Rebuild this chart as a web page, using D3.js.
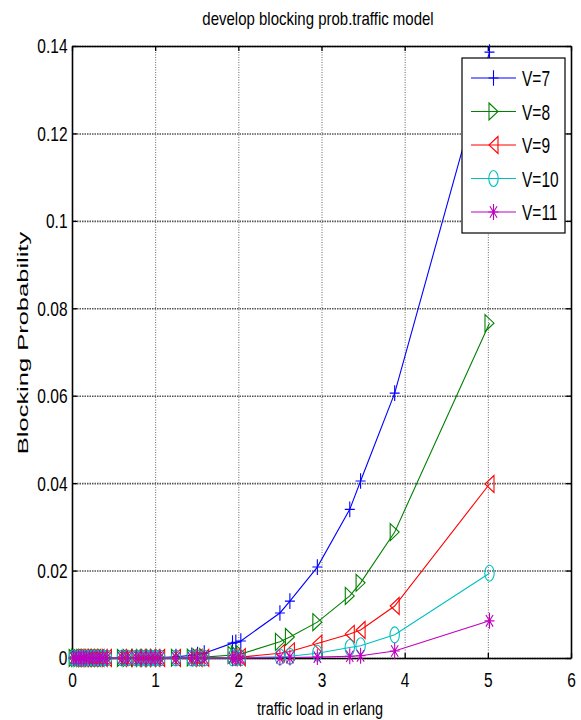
<!DOCTYPE html>
<html>
<head>
<meta charset="utf-8">
<script src="https://cdn.jsdelivr.net/npm/d3@7"></script>
<style>
  body { margin: 0; background: #fff; }
  svg { display: block; }
</style>
</head>
<body>
<script>
// traffic load (erlang) sampled for every curve
var loads = [0.02, 0.05, 0.08, 0.11, 0.14, 0.17, 0.21, 0.25, 0.29, 0.33, 0.37, 0.42,
  0.6, 0.67, 0.77, 0.83, 0.89, 0.95, 1.0, 1.06, 1.25, 1.44, 1.51, 1.59,
  1.93, 1.97, 2.03, 2.5, 2.62, 2.95, 3.34, 3.47, 3.88, 5.02]

var seriesNames = ['V=7', 'V=8', 'V=9', 'V=10', 'V=11']

var blockV7 = [0, 0, 0, 0, 0, 0, 0, 0, 0, 0, 0, 0,
  0, 0.00001, 0.00002, 0.00003, 0.00004, 0.00005, 0.00007, 0.0001, 0.0003, 0.0006, 0.0008, 0.0011,
  0.0034, 0.0036, 0.0039, 0.0103, 0.0130, 0.0208, 0.0340, 0.0405, 0.0606, 0.1386]
var blockV8 = [0, 0, 0, 0, 0, 0, 0, 0, 0, 0, 0, 0,
  0, 0, 0, 0, 0, 0, 0.00001, 0.00001, 0.00004, 0.0001, 0.00013, 0.0002,
  0.0007, 0.0008, 0.0009, 0.0037, 0.0048, 0.0082, 0.0142, 0.0172, 0.0288, 0.0766]
var blockV9 = [0, 0, 0, 0, 0, 0, 0, 0, 0, 0, 0, 0,
  0, 0, 0, 0, 0, 0, 0, 0, 0.00001, 0.00002, 0.00003, 0.00004,
  0.00015, 0.00018, 0.0002, 0.0011, 0.0015, 0.0033, 0.0055, 0.0064, 0.0119, 0.0398]
var blockV10 = [0, 0, 0, 0, 0, 0, 0, 0, 0, 0, 0, 0,
  0, 0, 0, 0, 0, 0, 0, 0, 0, 0, 0, 0.00001,
  0.00003, 0.00004, 0.00005, 0.0003, 0.0004, 0.0011, 0.0024, 0.0028, 0.0053, 0.0194]
var blockV11 = [0, 0, 0, 0, 0, 0, 0, 0, 0, 0, 0, 0,
  0, 0, 0, 0, 0, 0, 0, 0, 0, 0, 0, 0,
  0.00001, 0.00001, 0.00001, 0.00006, 0.0001, 0.0002, 0.0004, 0.0005, 0.0016, 0.0085]

var xTicks = [0, 1, 2, 3, 4, 5, 6]
var yTicks = [0, 0.02, 0.04, 0.06, 0.08, 0.1, 0.12, 0.14]
var yTickLabels = ['0', '0.02', '0.04', '0.06', '0.08', '0.1', '0.12', '0.14']

var width = 581
var height = 720
var plotLeft = 72
var plotRight = 571
var plotTop = 46
var plotBottom = 658
var markerStretch = 1.7 // picture is stretched vertically
var font = '"Liberation Sans", Arial, sans-serif'

var colors = ['#0000ff', '#008000', '#ff0000', '#00bfbf', '#bf00bf']
var markers = [
  'M-5,0H5M0,-4.6V4.6', // +
  'M-4.5,-5L4.5,0L-4.5,5Z', // >
  'M4.5,-5L-4.5,0L4.5,5Z', // <
  'M4.7,0A4.7,4.7 0 1,1 -4.7,0A4.7,4.7 0 1,1 4.7,0Z', // o
  'M-5,0H5M0,-4.7V4.7M-3.6,-3.4L3.6,3.4M-3.6,3.4L3.6,-3.4' // *
]

var svg = d3.select('body').append('svg')
  .attr('width', width)
  .attr('height', height)
  .style('background-color', '#fff')

var x = d3.scaleLinear().domain([0, 6]).range([plotLeft, plotRight])
var y = d3.scaleLinear().domain([0, 0.14]).range([plotBottom, plotTop])

var seriesData = [blockV7, blockV8, blockV9, blockV10, blockV11].map(function(vals, i) {
  return {
    name: seriesNames[i],
    color: colors[i],
    marker: markers[i],
    points: loads.map(function(l, j) { return { x: l, y: vals[j] } })
  }
})

// grid
var gridX = svg.append('g')
  .attr('transform', 'translate(0,' + plotBottom + ')')
  .call(d3.axisBottom(x).tickValues(xTicks).tickSize(-(plotBottom - plotTop)).tickFormat(''))
gridX.select('.domain').remove()
gridX.selectAll('line')
  .attr('stroke', '#666')
  .attr('stroke-width', 1)
  .attr('stroke-dasharray', '1,1.5')

var gridY = svg.append('g')
  .attr('transform', 'translate(' + plotLeft + ',0)')
  .call(d3.axisLeft(y).tickValues(yTicks).tickSize(-(plotRight - plotLeft)).tickFormat(''))
gridY.select('.domain').remove()
gridY.selectAll('line')
  .attr('stroke', '#555')
  .attr('stroke-width', 1.6)
  .attr('stroke-dasharray', '1.5,1')

// axes box with inward ticks
function styleAxis(g) {
  g.select('.domain').attr('stroke', '#000').attr('stroke-width', 1.6)
  g.selectAll('.tick line').attr('stroke', '#000').attr('stroke-width', 1.3)
  g.selectAll('.tick text')
    .attr('x', null).attr('y', null).attr('dy', null)
    .attr('fill', '#000')
    .style('font-family', font)
    .style('font-size', '15.5px')
}

var bottomAxis = svg.append('g')
  .attr('transform', 'translate(0,' + plotBottom + ')')
  .call(d3.axisBottom(x).tickValues(xTicks).tickSize(-5).tickSizeOuter(0).tickFormat(d3.format('d')))
  .call(styleAxis)
bottomAxis.selectAll('.tick text').attr('transform', 'translate(0,29) scale(1,1.25)')

var topAxis = svg.append('g')
  .attr('transform', 'translate(0,' + plotTop + ')')
  .call(d3.axisTop(x).tickValues(xTicks).tickSize(-5).tickSizeOuter(0).tickFormat(''))
  .call(styleAxis)

var leftAxis = svg.append('g')
  .attr('transform', 'translate(' + plotLeft + ',0)')
  .call(d3.axisLeft(y).tickValues(yTicks).tickSize(-5).tickSizeOuter(0)
    .tickFormat(function(d, i) { return yTickLabels[i] }))
  .call(styleAxis)
leftAxis.selectAll('.tick text').attr('transform', 'translate(-4.5,6.9) scale(1,1.25)')

var rightAxis = svg.append('g')
  .attr('transform', 'translate(' + plotRight + ',0)')
  .call(d3.axisRight(y).tickValues(yTicks).tickSize(-5).tickSizeOuter(0).tickFormat(''))
  .call(styleAxis)

// curves
var line = d3.line()
  .x(function(d) { return x(d.x) })
  .y(function(d) { return y(d.y) })

var series = svg.selectAll('.series')
  .data(seriesData)
  .enter()
  .append('g')
  .attr('class', 'series')

series.append('path')
  .attr('d', function(d) { return line(d.points) })
  .attr('fill', 'none')
  .attr('stroke', function(d) { return d.color })
  .attr('stroke-width', 1.1)

series.each(function(s) {
  d3.select(this).selectAll('.mark')
    .data(s.points)
    .enter()
    .append('path')
    .attr('class', 'mark')
    .attr('d', s.marker)
    .attr('transform', function(d) {
      return 'translate(' + x(d.x) + ',' + y(d.y) + ') scale(1,' + markerStretch + ')'
    })
    .attr('fill', 'none')
    .attr('stroke', s.color)
    .attr('stroke-width', 1.1)
    .attr('vector-effect', 'non-scaling-stroke')
})

// legend
var legendRow = d3.scaleLinear().domain([0, 4]).range([78, 212])
var legend = svg.append('g')
legend.append('rect')
  .attr('x', 462)
  .attr('y', 58)
  .attr('width', 103)
  .attr('height', 175)
  .attr('fill', '#fff')
  .attr('stroke', '#000')
  .attr('stroke-width', 1.2)

var items = legend.selectAll('.item')
  .data(seriesData)
  .enter()
  .append('g')
  .attr('class', 'item')
  .attr('transform', function(d, i) { return 'translate(0,' + legendRow(i) + ')' })

items.append('line')
  .attr('x1', 471).attr('x2', 516)
  .attr('y1', 0).attr('y2', 0)
  .attr('stroke', function(d) { return d.color })
  .attr('stroke-width', 1.1)

items.append('path')
  .attr('d', function(d) { return d.marker })
  .attr('transform', 'translate(493.5,0) scale(1,' + markerStretch + ')')
  .attr('fill', 'none')
  .attr('stroke', function(d) { return d.color })
  .attr('stroke-width', 1.1)
  .attr('vector-effect', 'non-scaling-stroke')

items.append('text')
  .attr('transform', 'translate(522,8) scale(1,1.45)')
  .style('font-family', font)
  .style('font-size', '15.5px')
  .attr('fill', '#000')
  .text(function(d) { return d.name })

// titles
svg.append('text')
  .attr('transform', 'translate(318,25) scale(1,1.25)')
  .attr('text-anchor', 'middle')
  .style('font-family', font)
  .style('font-size', '15px')
  .attr('fill', '#000')
  .text('develop blocking prob.traffic model')

svg.append('text')
  .attr('transform', 'translate(320,715) scale(1,1.25)')
  .attr('text-anchor', 'middle')
  .style('font-family', font)
  .style('font-size', '14.5px')
  .attr('fill', '#000')
  .text('traffic load in erlang')

svg.append('text')
  .attr('transform', 'translate(28,343) rotate(-90) scale(1.7,1)')
  .attr('text-anchor', 'middle')
  .style('font-family', font)
  .style('font-size', '15px')
  .attr('fill', '#000')
  .text('Blocking Probability')
</script>
</body>
</html>
